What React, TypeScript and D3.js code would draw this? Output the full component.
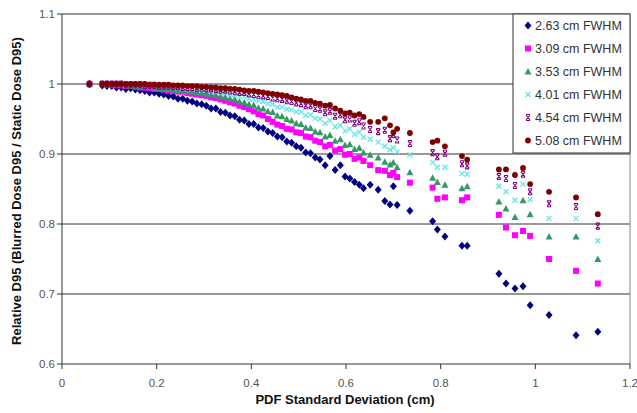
import React from "react";
import * as d3 from "d3";

const xValues = [0.058, 0.085, 0.095, 0.105, 0.115, 0.125, 0.135, 0.145, 0.155, 0.165, 0.175, 0.185, 0.195, 0.205, 0.215, 0.225, 0.235, 0.245, 0.255, 0.265, 0.275, 0.285, 0.295, 0.305, 0.315, 0.325, 0.335, 0.345, 0.355, 0.365, 0.375, 0.385, 0.395, 0.405, 0.415, 0.425, 0.435, 0.445, 0.455, 0.465, 0.475, 0.485, 0.495, 0.505, 0.515, 0.525, 0.535, 0.545, 0.556, 0.566, 0.577, 0.588, 0.598, 0.608, 0.618, 0.628, 0.637, 0.651, 0.668, 0.682, 0.693, 0.700, 0.708, 0.735, 0.783, 0.793, 0.809, 0.845, 0.856, 0.923, 0.938, 0.957, 0.974, 0.989, 1.029, 1.086, 1.132];

const fwhm263 = [1.000, 0.998, 0.997, 0.997, 0.995, 0.995, 0.993, 0.994, 0.992, 0.991, 0.990, 0.988, 0.988, 0.986, 0.985, 0.983, 0.982, 0.979, 0.979, 0.976, 0.975, 0.972, 0.971, 0.969, 0.965, 0.965, 0.960, 0.959, 0.955, 0.954, 0.949, 0.948, 0.943, 0.943, 0.938, 0.937, 0.932, 0.930, 0.925, 0.924, 0.918, 0.916, 0.911, 0.909, 0.902, 0.901, 0.895, 0.892, 0.884, 0.897, 0.877, 0.884, 0.868, 0.865, 0.860, 0.856, 0.851, 0.856, 0.849, 0.833, 0.828, 0.854, 0.827, 0.819, 0.804, 0.792, 0.782, 0.769, 0.769, 0.729, 0.715, 0.708, 0.711, 0.684, 0.670, 0.641, 0.646];

const fwhm309 = [1.000, 1.000, 0.999, 0.999, 0.998, 0.998, 0.997, 0.997, 0.996, 0.995, 0.995, 0.994, 0.993, 0.993, 0.992, 0.991, 0.990, 0.989, 0.989, 0.987, 0.986, 0.985, 0.984, 0.983, 0.981, 0.980, 0.978, 0.976, 0.974, 0.972, 0.969, 0.967, 0.964, 0.961, 0.957, 0.955, 0.950, 0.946, 0.942, 0.940, 0.936, 0.935, 0.931, 0.930, 0.925, 0.924, 0.919, 0.917, 0.911, 0.913, 0.905, 0.907, 0.899, 0.900, 0.893, 0.895, 0.890, 0.884, 0.877, 0.876, 0.870, 0.873, 0.867, 0.859, 0.852, 0.836, 0.838, 0.834, 0.838, 0.813, 0.795, 0.784, 0.790, 0.783, 0.750, 0.733, 0.715];

const fwhm353 = [1.000, 1.000, 1.000, 0.999, 0.999, 0.999, 0.998, 0.998, 0.997, 0.997, 0.996, 0.996, 0.995, 0.994, 0.994, 0.993, 0.992, 0.991, 0.991, 0.990, 0.989, 0.988, 0.987, 0.986, 0.985, 0.984, 0.982, 0.981, 0.979, 0.978, 0.975, 0.974, 0.971, 0.970, 0.966, 0.965, 0.961, 0.960, 0.955, 0.954, 0.950, 0.948, 0.944, 0.943, 0.938, 0.937, 0.932, 0.931, 0.925, 0.927, 0.919, 0.921, 0.913, 0.914, 0.907, 0.909, 0.902, 0.899, 0.895, 0.889, 0.885, 0.888, 0.881, 0.874, 0.866, 0.860, 0.856, 0.851, 0.854, 0.832, 0.822, 0.810, 0.834, 0.814, 0.782, 0.782, 0.750];

const fwhm401 = [1.000, 1.000, 1.000, 1.000, 1.000, 0.999, 0.999, 0.999, 0.998, 0.998, 0.998, 0.997, 0.997, 0.997, 0.996, 0.996, 0.995, 0.994, 0.994, 0.993, 0.993, 0.992, 0.991, 0.991, 0.989, 0.989, 0.987, 0.987, 0.985, 0.984, 0.982, 0.982, 0.979, 0.978, 0.976, 0.975, 0.972, 0.971, 0.967, 0.967, 0.964, 0.963, 0.960, 0.960, 0.955, 0.956, 0.951, 0.950, 0.944, 0.948, 0.939, 0.941, 0.933, 0.936, 0.928, 0.931, 0.924, 0.921, 0.917, 0.911, 0.906, 0.909, 0.903, 0.899, 0.888, 0.881, 0.881, 0.872, 0.871, 0.854, 0.846, 0.834, 0.857, 0.835, 0.808, 0.808, 0.776];

const fwhm454 = [1.000, 1.000, 1.000, 1.000, 1.000, 1.000, 0.999, 0.999, 0.999, 0.999, 0.998, 0.998, 0.998, 0.997, 0.997, 0.997, 0.996, 0.996, 0.995, 0.995, 0.995, 0.994, 0.994, 0.993, 0.993, 0.992, 0.991, 0.991, 0.990, 0.989, 0.988, 0.988, 0.986, 0.985, 0.984, 0.983, 0.982, 0.980, 0.979, 0.978, 0.976, 0.975, 0.973, 0.972, 0.969, 0.969, 0.965, 0.964, 0.959, 0.961, 0.954, 0.956, 0.949, 0.950, 0.944, 0.946, 0.940, 0.935, 0.932, 0.934, 0.922, 0.928, 0.920, 0.915, 0.902, 0.896, 0.901, 0.886, 0.883, 0.868, 0.865, 0.855, 0.871, 0.846, 0.829, 0.825, 0.797];

const fwhm508 = [1.000, 1.000, 1.000, 1.000, 1.000, 1.000, 1.000, 1.000, 1.000, 1.000, 1.000, 0.999, 0.999, 0.999, 0.999, 0.999, 0.998, 0.998, 0.998, 0.997, 0.997, 0.997, 0.996, 0.996, 0.995, 0.995, 0.994, 0.994, 0.993, 0.993, 0.992, 0.991, 0.990, 0.990, 0.989, 0.988, 0.987, 0.986, 0.985, 0.984, 0.983, 0.981, 0.979, 0.978, 0.976, 0.976, 0.973, 0.972, 0.969, 0.970, 0.965, 0.962, 0.958, 0.959, 0.955, 0.957, 0.953, 0.946, 0.946, 0.951, 0.941, 0.931, 0.936, 0.930, 0.917, 0.919, 0.911, 0.897, 0.892, 0.878, 0.878, 0.870, 0.880, 0.857, 0.846, 0.838, 0.814];

const seriesNames = ["2.63 cm FWHM", "3.09 cm FWHM", "3.53 cm FWHM", "4.01 cm FWHM", "4.54 cm FWHM", "5.08 cm FWHM"];
const seriesValues = [fwhm263, fwhm309, fwhm353, fwhm401, fwhm454, fwhm508];
const seriesColors = ["#000080", "#FF00FF", "#339966", "#66E6E6", "#800080", "#800000"];
const seriesShapes = ["diamond", "square", "triangle", "x", "star", "circle"];

const yTicks = [0.6, 0.7, 0.8, 0.9, 1.0, 1.1];
const xTicks = [0, 0.2, 0.4, 0.6, 0.8, 1.0, 1.2];

const FONT = "'Liberation Sans', Arial, sans-serif";

function Marker({ shape, color, cx, cy }: { shape: string; color: string; cx: number; cy: number }) {
  switch (shape) {
    case "diamond":
      return <path d={`M${cx},${cy - 4}L${cx + 3.5},${cy}L${cx},${cy + 4}L${cx - 3.5},${cy}Z`} fill={color} />;
    case "square":
      return <rect x={cx - 3} y={cy - 3} width={6} height={6} fill={color} />;
    case "triangle":
      return <path d={`M${cx},${cy - 3.5}L${cx + 3.5},${cy + 3}L${cx - 3.5},${cy + 3}Z`} fill={color} />;
    case "x":
      return (
        <path
          d={`M${cx - 2.5},${cy - 2.5}L${cx + 2.5},${cy + 2.5}M${cx + 2.5},${cy - 2.5}L${cx - 2.5},${cy + 2.5}`}
          stroke={color}
          strokeWidth={1.3}
          fill="none"
        />
      );
    case "star":
      return (
        <path
          d={`M${cx - 2},${cy - 2.5}L${cx + 2},${cy + 2.5}M${cx + 2},${cy - 2.5}L${cx - 2},${cy + 2.5}M${cx - 2},${cy - 3}L${cx + 2},${cy - 3}M${cx - 2},${cy + 3}L${cx + 2},${cy + 3}`}
          stroke={color}
          strokeWidth={1.1}
          fill="none"
        />
      );
    default:
      return <circle cx={cx} cy={cy} r={2.9} fill={color} />;
  }
}

export default function App() {
  const width = 637;
  const height = 413;
  const left = 62;
  const right = 630;
  const top = 14;
  const bottom = 364;

  const x = d3.scaleLinear().domain([0, 1.2]).range([left, right]);
  const y = d3.scaleLinear().domain([0.6, 1.1]).range([bottom, top]);

  const legendX = 513;
  const legendY = 14;
  const legendW = 117;
  const legendH = 139;

  return (
    <svg
      width={width}
      height={height}
      style={{ position: "absolute", left: 0, top: 0, background: "#fff" }}
      fontFamily={FONT}
    >
      <rect x={0} y={0} width={width} height={height} fill="#fff" />
      {yTicks.filter((t) => t > 0.6).map((t) => (
        <line key={t} x1={left} x2={right} y1={y(t)} y2={y(t)} stroke="#333" strokeWidth={1} />
      ))}
      <line x1={right} x2={right} y1={top} y2={bottom} stroke="#888" strokeWidth={1} />
      <line x1={left} x2={left} y1={top} y2={bottom} stroke="#333" strokeWidth={1} />
      <line x1={left} x2={right} y1={bottom} y2={bottom} stroke="#333" strokeWidth={1} />
      {yTicks.map((t) => (
        <g key={"yt" + t}>
          <line x1={left - 5} x2={left} y1={y(t)} y2={y(t)} stroke="#333" />
          <text x={left - 7} y={y(t) + 4} textAnchor="end" fontSize={11.5} fill="#555">
            {d3.format("~g")(t)}
          </text>
        </g>
      ))}
      {xTicks.map((t) => (
        <g key={"xt" + t}>
          <line x1={x(t)} x2={x(t)} y1={bottom} y2={bottom + 5} stroke="#333" />
          <text x={x(t)} y={bottom + 23} textAnchor="middle" fontSize={11.5} fill="#555">
            {d3.format("~g")(t)}
          </text>
        </g>
      ))}
      {seriesValues.map((vals, si) => (
        <g key={"s" + si}>
          {vals.map((v, i) => (
            <Marker key={i} shape={seriesShapes[si]} color={seriesColors[si]} cx={x(xValues[i])} cy={y(v)} />
          ))}
        </g>
      ))}
      <rect x={legendX} y={legendY} width={legendW} height={legendH} fill="#fff" stroke="#333" strokeWidth={1} />
      {seriesNames.map((name, i) => {
        const cy = legendY + 11.5 + i * 23;
        return (
          <g key={"lg" + i}>
            <Marker shape={seriesShapes[i]} color={seriesColors[i]} cx={legendX + 15} cy={cy} />
            <text x={legendX + 22} y={cy + 4.5} fontSize={12.5} fill="#333">
              {name}
            </text>
          </g>
        );
      })}
      <text x={345} y={404} textAnchor="middle" fontSize={13} fontWeight="bold" fill="#111">
        PDF Standard Deviation (cm)
      </text>
      <text
        transform={`translate(21, ${(top + bottom) / 2 + 2}) rotate(-90)`}
        textAnchor="middle"
        fontSize={13}
        fontWeight="bold"
        fill="#111"
      >
        Relative D95 (Blurred Dose D95 / Static Dose D95)
      </text>
    </svg>
  );
}
